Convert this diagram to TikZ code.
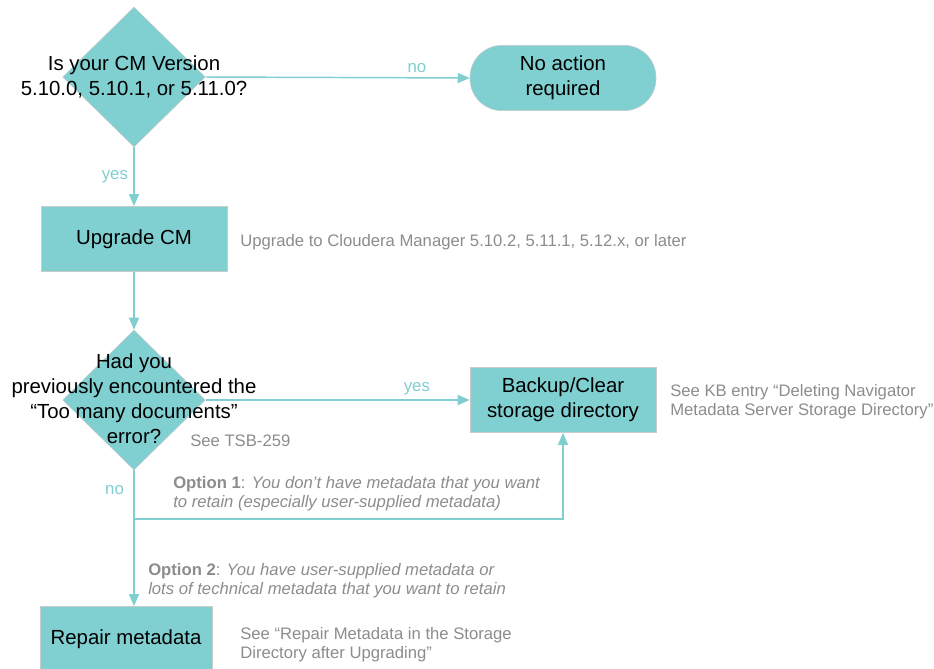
\documentclass[tikz,border=0pt]{standalone}
\usepackage{fontspec}
\setmainfont{Liberation Sans}
\usetikzlibrary{shapes.geometric,arrows.meta}

\definecolor{flowfill}{RGB}{128,207,209}
\definecolor{flowline}{RGB}{128,206,208}
\definecolor{boxedge}{RGB}{200,204,204}
\definecolor{notegray}{RGB}{140,140,140}

\begin{document}
\begin{tikzpicture}[x=0.75pt,y=-0.75pt,
  every node/.style={inner sep=0pt},
  decision/.style={diamond,draw=boxedge,fill=flowfill,minimum width=107pt,minimum height=105pt},
  qtext/.style={align=center,font=\fontsize{15.3}{18.75}\selectfont},
  process/.style={rectangle,draw=boxedge,fill=flowfill,minimum width=139.5pt,minimum height=49pt,
    align=center,font=\fontsize{15.3}{18.75}\selectfont},
  terminal/.style={process,rounded corners=24pt},
  flow/.style={draw=flowline,line width=1.1pt,-{Triangle[length=9pt,width=7.5pt]}},
  answer/.style={text=flowline,font=\fontsize{12.6}{14}\selectfont},
  note/.style={text=notegray,anchor=west,align=left,font=\fontsize{12.5}{14.25}\selectfont}]
\useasboundingbox (0,0) rectangle (934,668);

% first question
\node[decision] (q1) at (134,77) {};
\node[qtext] (q1t) at (q1) {Is your CM Version\\5.10.0, 5.10.1, or 5.11.0?};
\node[terminal] (noact) at (563,78) {No action\\required};

% upgrade step
\node[process] (upgrade) at (134,239) {Upgrade CM};
\node[note] (upnote) at (240,242) {Upgrade to Cloudera Manager 5.10.2, 5.11.1, 5.12.x, or later};

% second question
\node[decision] (q2) at (134,400) {};
\node[qtext] (q2t) at (134,399) {Had you\\previously encountered the\\“Too many documents”\\error?};
\node[note] (tsb) at (190,441) {See TSB-259};
\node[process] (backup) at (563,400) {Backup/Clear\\storage directory};
\node[note] (kbnote) at (670,402) {See KB entry “Deleting Navigator\\Metadata Server Storage Directory”};

% options
\node[note] (opt1) at (173,494) {\textbf{Option 1}: \textit{You don’t have metadata that you want}\\\textit{to retain (especially user-supplied metadata)}};
\node[note] (opt2) at (148,581) {\textbf{Option 2}: \textit{You have user-supplied metadata or}\\\textit{lots of technical metadata that you want to retain}};
\node[process,minimum width=129pt] (repair) at (126,639) {Repair metadata};
\node[note] (repnote) at (240,645) {See “Repair Metadata in the Storage\\Directory after Upgrading”};

\coordinate (turn) at (134,519);

% connectors
\draw[flow] (q1.east) -- node[answer,above=3pt,pos=0.8] {no} (noact.west);
\draw[flow] (q1.south) -- node[answer,left=4pt] {yes} (upgrade.north);
\draw[flow] (upgrade.south) -- (q2.north);
\draw[flow] (q2.east) -- node[answer,above=3pt,pos=0.8] {yes} (backup.west);
\draw[draw=flowline,line width=1.1pt] (q2.south) -- node[answer,left=7pt,pos=0.4] {no} (turn);
\draw[flow] (turn) -| (backup.south);
\draw[flow] (turn) -- (turn |- repair.north);
\end{tikzpicture}
\end{document}
